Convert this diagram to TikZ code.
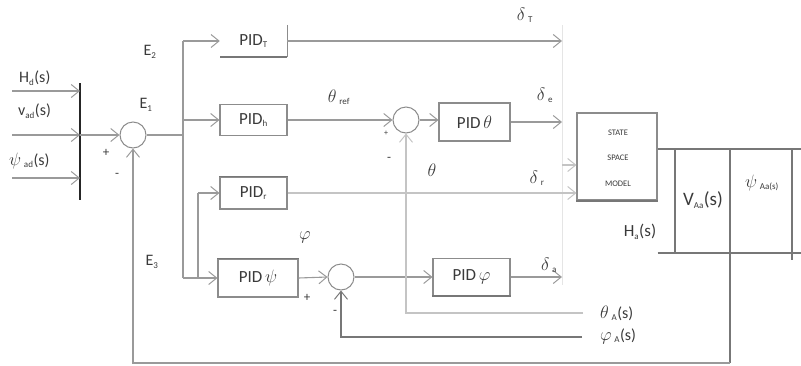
\RequirePackage{fix-cm}
\documentclass[tikz,border=0pt]{standalone}
\usepackage{fontspec}
\setmainfont{Carlito}
\usetikzlibrary{arrows.meta}
\definecolor{ln}{HTML}{9A9A9A}
\definecolor{lt}{HTML}{C4C4C4}
\definecolor{dk}{HTML}{777777}
\definecolor{bx}{HTML}{8C8C8C}
\definecolor{tx}{HTML}{3A3A3A}
\newcommand\gk[1]{{\fontsize{18}{20}\selectfont$#1$}}
\newcommand\sbs[1]{\textsubscript{\fontsize{9}{10}\selectfont #1}}
\begin{document}
\begin{tikzpicture}[x=1pt,y=-1pt,
  every node/.style={text=tx, font=\fontsize{16}{18}\selectfont, inner sep=0pt},
  wire/.style={draw=ln, line width=1.1pt},
  arr/.style={wire, -{Straight Barb[length=8pt,width=13pt,line width=1pt]}},
  pidbox/.style={draw=bx, line width=1.1pt, rectangle, font=\fontsize{17}{19}\selectfont},
  sumc/.style={circle, draw=bx, line width=1pt, minimum size=26pt},
  tab/.style={draw=dk, line width=1.4pt},
  edgedark/.style={draw=dk, line width=1.6pt},
  sgn/.style={font=\fontsize{13}{15}\selectfont},
  ssmtxt/.style={font=\fontsize{8.5}{10}\selectfont}]
\useasboundingbox (0,0) rectangle (801,365);

% nodes
\node[minimum width=67pt, minimum height=32pt, font=\fontsize{17}{19}\selectfont] (PIDT) at (253.5,41) {PID\sbs{T}};
\node[pidbox, minimum width=67pt, minimum height=31pt] (PIDh) at (253.5,120) {PID\sbs{h}};
\node[pidbox, minimum width=71pt, minimum height=38pt] (PIDth) at (474.5,122) {PID\,\gk{\theta}};
\node[pidbox, minimum width=67pt, minimum height=32pt] (PIDr) at (253.5,193) {PID\sbs{r}};
\node[pidbox, minimum width=80pt, minimum height=38pt] (PIDpsi) at (258,278) {PID\,\gk{\psi}};
\node[pidbox, minimum width=77pt, minimum height=37pt] (PIDphi) at (471.5,277) {PID\,\gk{\varphi}};
\node[pidbox, minimum width=80pt, minimum height=87pt] (SSM) at (617,156.5) {};
\node[ssmtxt] (st1) at (618,133) {STATE};
\node[ssmtxt] (st2) at (618,158) {SPACE};
\node[ssmtxt] (st3) at (618,184) {MODEL};
\draw[draw=dk, line width=2pt] (SSM.south west) -- (SSM.south east);
\draw[edgedark] (PIDr.north west) -- (PIDr.north east);
\draw[edgedark] (PIDpsi.north west) -- (PIDpsi.north east);
\draw[edgedark] (PIDphi.south west) -- (PIDphi.south east);

\node[sumc] (E1) at (133,135) {};
\node[sumc] (Sth) at (406,120) {};
\node[sumc] (Sphi) at (341,277) {};

% PID_T box edges
\draw[pidbox] (PIDT.north east) -- (PIDT.south east);
\draw[edgedark] (PIDT.south east) -- (PIDT.south west);

% input bar
\coordinate (barT) at (80,83);
\coordinate (barB) at (80,200);
\coordinate (inH) at (12,91);
\coordinate (inV) at (12,135);
\coordinate (inP) at (12,178);
\draw[draw=black!85, line width=2.6pt] (barT) -- (barB);
\draw[arr] (inH) -- (inH -| barT);
\draw[arr] (inV) -- (inV -| barT);
\draw[arr] (inP) -- (inP -| barT);
\draw[arr] (inV -| barT) -- (E1.west);
\node[anchor=west] (lH) at (19,78) {H\sbs{d}(s)};
\node[anchor=west] (lV) at (18,111) {v\sbs{ad}(s)};
\node[anchor=west] (lP) at (9,161) {\gk{\psi}\,\sbs{ad}(s)};
\node[sgn] (p1) at (106,153) {+};
\node[sgn] (m1) at (117,175) {-};

% branches
\coordinate (br) at (183,135);
\coordinate (brT) at (183,41);
\coordinate (brB) at (183,278);
\coordinate (brR) at (198,278);
\draw[wire] (E1.east) -- (br);
\draw[wire] (brT) -- (brB);
\draw[arr] (brT) -- (PIDT.west);
\draw[arr] (brT |- PIDh.west) -- (PIDh.west);
\draw[arr] (brB) -- (PIDpsi.west);
\draw[wire] (brR) -- (brR |- PIDr.west);
\draw[arr] (brR |- PIDr.west) -- (PIDr.west);
\node (E2) at (150,52) {E\sbs{2}};
\node (E1l) at (146,105) {E\sbs{1}};
\node (E3) at (152,262) {E\sbs{3}};

% bus
\coordinate (busT) at (562,25);
\coordinate (busB) at (562,285);
\coordinate (busM) at (562,165);
\draw[draw=black!10, line width=1pt] (busT) -- (busB);
\draw[arr] (PIDT.east) -- (PIDT.east -| busT);
\draw[arr] (PIDh.east) -- (Sth.west);
\draw[arr] (Sth.east) -- (Sth.east -| PIDth.west);
\draw[arr] (PIDth.east) -- (PIDth.east -| busT);
\draw[arr, draw=lt] (PIDr.east) -- (PIDr.east -| SSM.west);
\draw[arr, draw=lt] (busM) -- (busM -| SSM.west);
\draw[arr] (PIDpsi.east) -- (Sphi.west);
\draw[arr] (Sphi.east) -- (PIDphi.west);
\draw[arr] (PIDphi.east) -- (PIDphi.east -| busT);

% signal labels
\node (dT) at (525,15) {\gk{\delta}\,\sbs{T}};
\node (dE) at (545,95) {\gk{\delta}\,\sbs{e}};
\node (dR) at (537,178) {\gk{\delta}\,\sbs{r}};
\node (dA) at (549,265) {\gk{\delta}\,\sbs{a}};
\node (thr) at (339,97) {\gk{\theta}\,\sbs{ref}};
\node (thl) at (432,170) {\gk{\theta}};
\node (phl) at (305,237) {\gk{\varphi}};
\node[font=\fontsize{8}{9}\selectfont] (p2) at (386,133) {+};
\node[sgn] (m2) at (389,159) {-};
\node[sgn] (p3) at (307,298) {+};
\node[sgn] (m3) at (335,312) {-};

% feedbacks
\coordinate (thA) at (583,313);
\coordinate (phA) at (582,337);
\draw[arr, draw=lt] (thA) -| (Sth.south);
\draw[arr, draw=dk] (phA) -| (Sphi.south);
\node[anchor=west] (lthA) at (600,313) {\gk{\theta}\,\sbs{A}(s)};
\node[anchor=west] (lphA) at (600,336) {\gk{\varphi}\,\sbs{A}(s)};

% output table
\coordinate (tTop) at (730,149);
\coordinate (fbR) at (730,363);
\draw[tab] (SSM.east |- tTop) -- (801,149);
\draw[tab] (SSM.east |- 0,253) -- (801,253);
\draw[tab] (675,149) -- (675,253);
\draw[tab] (792,149) -- (792,260);
\draw[tab] (tTop) -- (fbR);
\draw[arr] (fbR) -| (E1.south);
\node[font=\fontsize{17}{19}\selectfont] (lHa) at (640,232) {H\sbs{a}(s)};
\node[font=\fontsize{19}{21}\selectfont] (lVa) at (703,200) {V\sbs{Aa}(s)};
\node (lPa) at (762,183) {\gk{\psi}\,\sbs{Aa(s)}};
\end{tikzpicture}
\end{document}
